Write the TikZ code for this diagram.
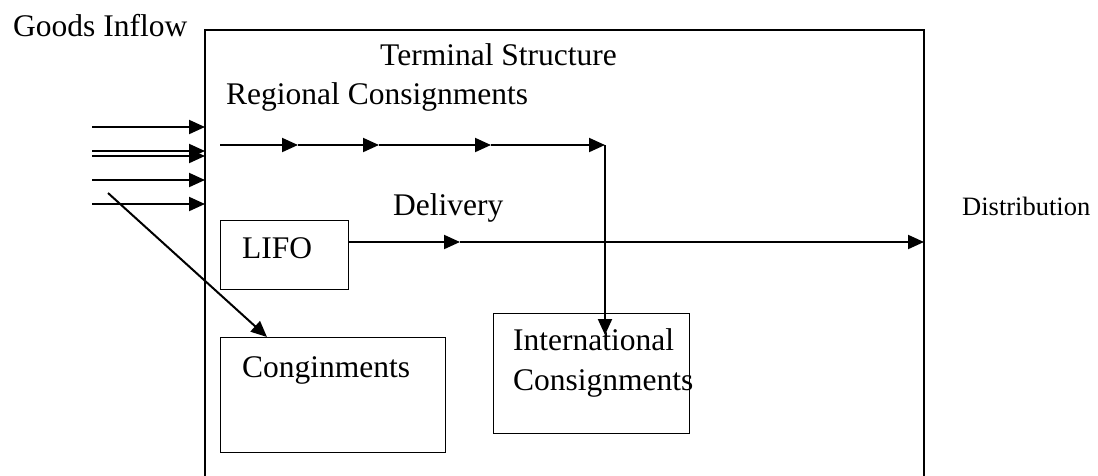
\documentclass[tikz,border=0pt]{standalone}
\usepackage{fontspec}
\setmainfont{Liberation Serif}
\usetikzlibrary{arrows.meta}
\begin{document}
\begin{tikzpicture}[x=1pt,y=-1pt,
  frame/.style={draw, line width=1.6pt},
  boxn/.style={draw, line width=1.4pt, anchor=north west, inner sep=0pt},
  flow/.style={line width=2pt, -{Triangle[length=16pt,width=14pt]}},
  lbl/.style={anchor=base west, inner sep=0pt, font=\fontsize{31.5}{38}\selectfont},
  lbls/.style={anchor=base west, inner sep=0pt, font=\fontsize{26.5}{32}\selectfont}]
\useasboundingbox (0,0) rectangle (1098,475);
% main frame
\draw[frame] (205,490) -- (205,30) -- (924,30) -- (924,490);
% boxes
\node[boxn, minimum width=128pt, minimum height=69pt] (lifo) at (220,220) {};
\node[boxn, minimum width=225pt, minimum height=115pt] (cong) at (220,337) {};
\node[boxn, minimum width=196pt, minimum height=120pt] (intl) at (493,313) {};
% texts
\node[lbl] (gi) at (13,36) {Goods Inflow};
\node[lbl] (ts) at (380,65) {Terminal Structure};
\node[lbl] (rc) at (226,104) {Regional Consignments};
\node[lbl] (dl) at (393,215) {Delivery};
\node[lbls] (ds) at (962,215) {Distribution};
\node[lbl] (lt) at (242,258) {LIFO};
\node[lbl] (ct) at (242,377) {Conginments};
\node[lbl] (it1) at (513,350) {International};
\node[lbl] (it2) at (513,390) {Consignments};
% inflow arrows
\foreach \yy/\nm in {127/a,151/b,156/c,180/d,204/e}{
  \coordinate (s\nm) at (92,\yy);
  \coordinate (t\nm) at (205,\yy);
  \draw[flow] (s\nm) -- (t\nm);
}
% diagonal
\coordinate (dg) at (108,193);
\draw[flow] (dg) -- (cong.north west -| 267,0);
% regional chain
\coordinate (r0) at (220,145);
\coordinate (r1) at (298,145);
\coordinate (r2) at (379,145);
\coordinate (r3) at (491,145);
\coordinate (r4) at (605,145);
\coordinate (r5) at (605,335);
\draw[flow] (r0) -- (r1);
\draw[flow] (r1) -- (r2);
\draw[flow] (r2) -- (r3);
\draw[flow] (r3) -- (r4);
\draw[flow] (r4) -- (r5);
% delivery
\coordinate (d0) at (348,242);
\coordinate (d1) at (460,242);
\coordinate (d2) at (924,242);
\draw[flow] (d0) -- (d1);
\draw[flow] (d1) -- (d2);
\end{tikzpicture}
\end{document}
